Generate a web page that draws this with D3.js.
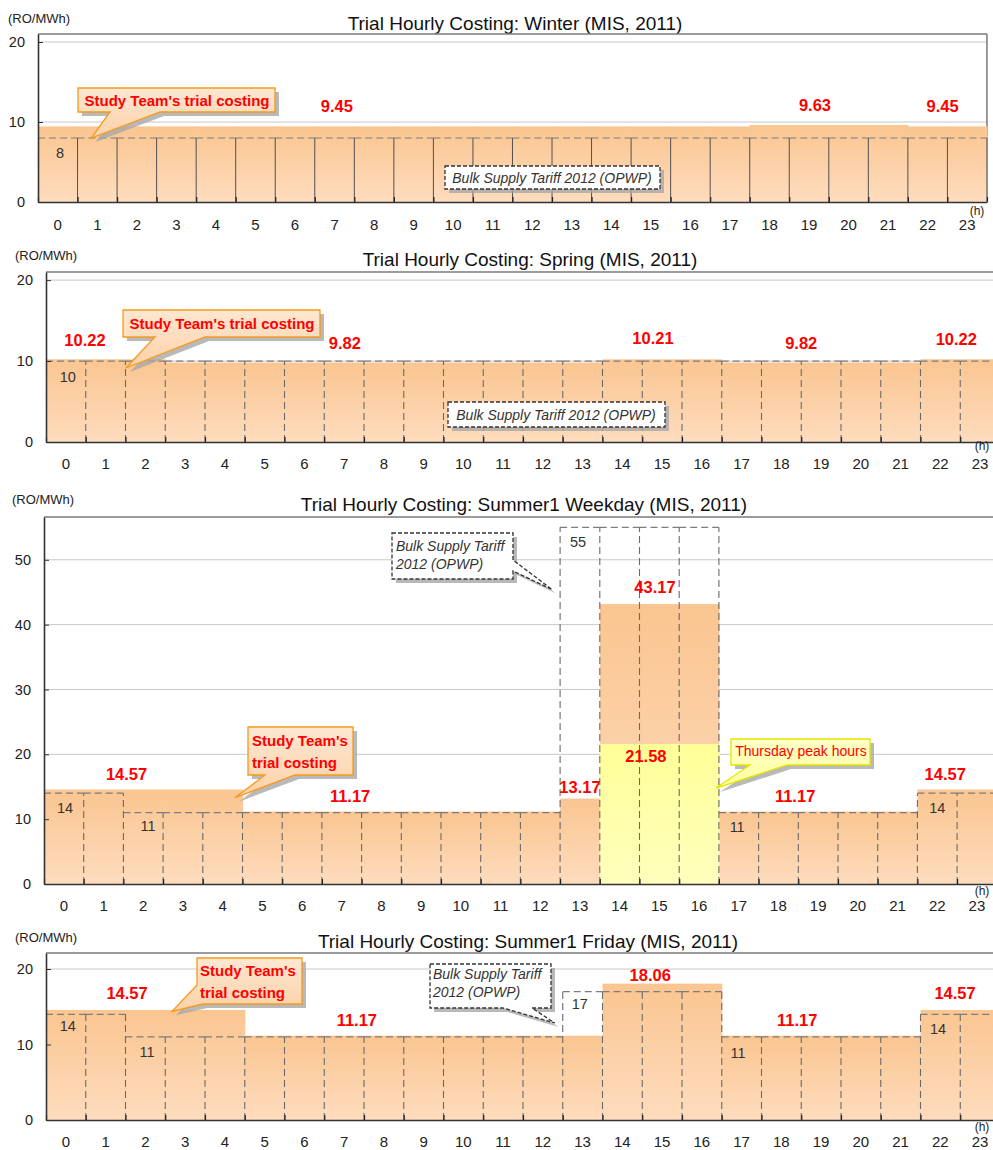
<!DOCTYPE html>
<html>
<head>
<meta charset="utf-8">
<script src="https://cdn.jsdelivr.net/npm/d3@7"></script>
<style>
  body { margin: 0; background: #fff; }
  svg { display: block; font-family: "Liberation Sans", Arial, sans-serif; }
</style>
</head>
<body>
<svg id="chart" width="993" height="1150"></svg>
<script>
// ---------- data ----------
const hours = [0, 1, 2, 3, 4, 5, 6, 7, 8, 9, 10, 11, 12, 13, 14, 15, 16, 17, 18, 19, 20, 21, 22, 23];

// Winter
const winterCost   = [9.45, 9.45, 9.45, 9.45, 9.45, 9.45, 9.45, 9.45, 9.45, 9.45, 9.45, 9.45,
                      9.45, 9.45, 9.45, 9.45, 9.45, 9.45, 9.63, 9.63, 9.63, 9.63, 9.45, 9.45];
const winterTariff = [8, 8, 8, 8, 8, 8, 8, 8, 8, 8, 8, 8, 8, 8, 8, 8, 8, 8, 8, 8, 8, 8, 8, 8];

// Spring
const springCost   = [10.22, 10.22, 10.22, 9.82, 9.82, 9.82, 9.82, 9.82, 9.82, 9.82, 9.82, 9.82,
                      9.82, 9.82, 10.21, 10.21, 10.21, 9.82, 9.82, 9.82, 9.82, 9.82, 10.22, 10.22];
const springTariff = [10, 10, 10, 10, 10, 10, 10, 10, 10, 10, 10, 10, 10, 10, 10, 10, 10, 10, 10, 10, 10, 10, 10, 10];

// Summer1 weekday
const weekdayCost   = [14.57, 14.57, 14.57, 14.57, 14.57, 11.17, 11.17, 11.17, 11.17, 11.17, 11.17, 11.17,
                       11.17, 13.17, 43.17, 43.17, 43.17, 11.17, 11.17, 11.17, 11.17, 11.17, 14.57, 14.57];
const weekdayThursday = [null, null, null, null, null, null, null, null, null, null, null, null,
                         null, null, 21.58, 21.58, 21.58, null, null, null, null, null, null, null];
const weekdayTariff = [14, 14, 11, 11, 11, 11, 11, 11, 11, 11, 11, 11, 11, 55, 55, 55, 55, 11, 11, 11, 11, 11, 14, 14];

// Summer1 Friday
const fridayCost   = [14.57, 14.57, 14.57, 14.57, 14.57, 11.17, 11.17, 11.17, 11.17, 11.17, 11.17, 11.17,
                      11.17, 11.17, 18.06, 18.06, 18.06, 11.17, 11.17, 11.17, 11.17, 11.17, 14.57, 14.57];
const fridayTariff = [14, 14, 11, 11, 11, 11, 11, 11, 11, 11, 11, 11, 11, 17, 17, 17, 17, 11, 11, 11, 11, 11, 14, 14];

const yTicksSmall = [0, 10, 20];
const yTicksLarge = [0, 10, 20, 30, 40, 50];

const unitLabel = "(RO/MWh)";
const hourUnit = "(h)";
const studyText = "Study Team's trial costing";
const studyTextLines = ["Study Team's", "trial costing"];
const bulkText = "Bulk Supply Tariff 2012 (OPWP)";
const bulkTextLines = ["Bulk Supply Tariff", "2012 (OPWP)"];
const peakText = "Thursday peak hours";

// ---------- panel layout ----------
const panels = [
  {
    title: "Trial Hourly Costing: Winter (MIS, 2011)", titleX: 515, titleY: 30,
    unitX: 8, unitY: 23,
    left: 38, bw: 39.54, top: 34, bottom: 202, yMax: 21, yTicks: yTicksSmall,
    tickPad: 17, hX: 977, hY: 215, rightBorder: true, solidDividers: true,
    cost: winterCost, tariff: winterTariff, peak: null,
    valueLabels: [{ i: 7, at: 7.56, dy: -14 }, { i: 19, at: 19.65, dy: -14 }, { i: 22, at: 22.88, dy: -14 }],
    tariffLabels: [{ i: 0, at: 0.56, dy: 20 }],
    callouts: [
      { kind: "study", lines: [studyText], box: [78, 88, 275, 112], text: [177, 105.5], anchor: "middle",
        wedge: { edge: "bottom", from: 160, to: 110 }, tip: [1.35, 8] },
      { kind: "bulk", lines: [bulkText], box: [445, 166, 660, 189], text: [552, 182.5], anchor: "middle" }
    ]
  },
  {
    title: "Trial Hourly Costing: Spring (MIS, 2011)", titleX: 530, titleY: 266,
    unitX: 15, unitY: 260,
    left: 46, bw: 39.75, top: 272, bottom: 442, yMax: 21, yTicks: yTicksSmall,
    tickPad: 16, hX: 982, hY: 450, rightBorder: false, solidDividers: false,
    cost: springCost, tariff: springTariff, peak: null,
    valueLabels: [{ i: 1, at: 0.98, dy: -13 }, { i: 7, at: 7.52, dy: -13.5 }, { i: 15, at: 15.27, dy: -15 },
                  { i: 19, at: 19.0, dy: -13.5 }, { i: 22, at: 22.9, dy: -14 }],
    tariffLabels: [{ i: 0, at: 0.55, dy: 21 }],
    callouts: [
      { kind: "study", lines: [studyText], box: [123, 310, 320, 337], text: [222, 328.5], anchor: "middle",
        wedge: { edge: "bottom", from: 205, to: 155 }, tip: [2.01, 9.14] },
      { kind: "bulk", lines: [bulkText], box: [448, 402, 665, 427], text: [556, 419.5], anchor: "middle" }
    ]
  },
  {
    title: "Trial Hourly Costing: Summer1 Weekday (MIS, 2011)", titleX: 524, titleY: 511,
    unitX: 12, unitY: 504,
    left: 44, bw: 39.7, top: 517, bottom: 884, yMax: 56.6, yTicks: yTicksLarge,
    tickPad: 16, hX: 982, hY: 895, rightBorder: false, solidDividers: false,
    cost: weekdayCost, tariff: weekdayTariff, peak: weekdayThursday,
    valueLabels: [{ i: 2, at: 2.08, dy: -9.5 }, { i: 7, at: 7.71, dy: -9.6 }, { i: 13, at: 13.5, dy: -5.6 },
                  { i: 15, at: 15.39, dy: -11 }, { i: 18, at: 18.92, dy: -9.6 }, { i: 22, at: 22.7, dy: -9.5 }],
    peakLabels: [{ i: 15, at: 15.16, dy: 18 }],
    tariffLabels: [{ i: 0, at: 0.53, dy: 20 }, { i: 2, at: 2.62, dy: 18 }, { i: 13, at: 13.45, dy: 19.5 },
                   { i: 17, at: 17.46, dy: 19 }, { i: 22, at: 22.5, dy: 20 }],
    callouts: [
      { kind: "study", lines: studyTextLines, box: [248, 727, 353, 775], text: [252, 745.5], anchor: "start",
        wedge: { edge: "bottom", from: 295, to: 265 }, tip: [4.81, 13.3] },
      { kind: "bulk", lines: bulkTextLines, box: [392, 533, 513, 579], text: [396, 550.5], anchor: "start",
        wedge: { edge: "right", from: 560, to: 571 }, tip: [12.8, 45.4] },
      { kind: "peak", lines: [peakText], box: [731, 739, 870, 765], text: [801, 756], anchor: "middle",
        wedge: { edge: "bottom", from: 787, to: 750 }, tip: [16.93, 14.8] }
    ]
  },
  {
    title: "Trial Hourly Costing: Summer1 Friday (MIS, 2011)", titleX: 528, titleY: 948,
    unitX: 15, unitY: 942,
    left: 46, bw: 39.75, top: 953, bottom: 1120, yMax: 22.12, yTicks: yTicksSmall,
    tickPad: 16, hX: 982, hY: 1131, rightBorder: false, solidDividers: false,
    cost: fridayCost, tariff: fridayTariff, peak: null,
    valueLabels: [{ i: 2, at: 2.04, dy: -11 }, { i: 7, at: 7.82, dy: -9.7 }, { i: 15, at: 15.2, dy: -3 },
                  { i: 18, at: 18.9, dy: -9.7 }, { i: 22, at: 22.87, dy: -11 }],
    tariffLabels: [{ i: 0, at: 0.55, dy: 16.5 }, { i: 2, at: 2.54, dy: 19.6 }, { i: 13, at: 13.43, dy: 17 },
                   { i: 17, at: 17.41, dy: 21 }, { i: 22, at: 22.44, dy: 19.4 }],
    callouts: [
      { kind: "study", lines: studyTextLines, box: [197, 958, 302, 1004], text: [200, 975.5], anchor: "start",
        wedge: { edge: "cornerBL", from: 203, to: 985 }, tip: [3.17, 14.4] },
      { kind: "bulk", lines: bulkTextLines, box: [430, 964, 551, 1008], text: [433, 978.5], anchor: "start",
        wedge: { edge: "bottom", from: 532, to: 503 }, tip: [12.8, 12.85] }
    ]
  }
];

// ---------- drawing ----------
const svg = d3.select("#chart");
const defs = svg.append("defs");
const fmt2 = d3.format(".2f");
const FONT = "'Liberation Sans', Arial, sans-serif";

function vGradient(id, stops) {
  const g = defs.append("linearGradient").attr("id", id)
    .attr("x1", 0).attr("y1", 0).attr("x2", 0).attr("y2", 1);
  stops.forEach(([o, c]) => g.append("stop").attr("offset", o).attr("stop-color", c));
}
vGradient("barFill", [[0, "#fac590"], [1, "#fedcbe"]]);
vGradient("peakFill", [[0, "#ffff98"], [1, "#ffffbd"]]);
vGradient("studyFill", [[0, "#fee7d2"], [1, "#fcd1a8"]]);
vGradient("thuFill", [[0, "#ffffc8"], [1, "#ffff9e"]]);

const calloutStyle = {
  study: { fill: "url(#studyFill)", stroke: "#f59a1b", dash: null, color: "#ff0000", weight: "bold", italic: false, size: 15, lh: 22 },
  bulk:  { fill: "#ffffff", stroke: "#333333", dash: "4,2", color: "#333333", weight: "normal", italic: true, size: 14, lh: 18 },
  peak:  { fill: "url(#thuFill)", stroke: "#e5e500", dash: null, color: "#ff0000", weight: "normal", italic: false, size: 14, lh: 18 }
};

function calloutPoints(c, tipXY) {
  const [x0, y0, x1, y1] = c.box;
  if (!c.wedge) return [[x0, y0], [x1, y0], [x1, y1], [x0, y1]];
  const w = c.wedge;
  if (w.edge === "bottom")
    return [[x0, y0], [x1, y0], [x1, y1], [w.from, y1], tipXY, [w.to, y1], [x0, y1]];
  if (w.edge === "right")
    return [[x0, y0], [x1, y0], [x1, w.from], tipXY, [x1, w.to], [x1, y1], [x0, y1]];
  if (w.edge === "cornerBL")
    return [[x0, y0], [x1, y0], [x1, y1], [w.from, y1], tipXY, [x0, w.to]];
  return [[x0, y0], [x1, y0], [x1, y1], [x0, y1]];
}

panels.forEach(p => {
  const g = svg.append("g");
  const right = p.left + 24 * p.bw;
  const x = d3.scaleLinear().domain([0, 24]).range([p.left, right]);
  const band = d3.scaleBand().domain(hours).range([p.left, right]).padding(0);
  const y = d3.scaleLinear().domain([0, p.yMax]).range([p.bottom, p.top]);

  // titles
  g.append("text").attr("x", p.titleX).attr("y", p.titleY).attr("text-anchor", "middle")
    .attr("font-size", 19).attr("fill", "#111").text(p.title);
  g.append("text").attr("x", p.unitX).attr("y", p.unitY)
    .attr("font-size", 13).attr("fill", "#222").text(unitLabel);

  // gridlines
  g.append("g").selectAll("line").data(p.yTicks.filter(t => t > 0)).join("line")
    .attr("x1", p.left).attr("x2", right).attr("y1", d => y(d)).attr("y2", d => y(d))
    .attr("stroke", "#c8c8c8").attr("stroke-width", 1);

  // frame (top / right)
  g.append("line").attr("x1", p.left).attr("x2", right).attr("y1", p.top).attr("y2", p.top)
    .attr("stroke", "#7a7a7a").attr("stroke-width", 1.5);
  if (p.rightBorder)
    g.append("line").attr("x1", right).attr("x2", right).attr("y1", p.top).attr("y2", p.bottom)
      .attr("stroke", "#7a7a7a").attr("stroke-width", 1.5);

  // study team costing bars
  g.append("g").selectAll("rect").data(hours).join("rect")
    .attr("x", d => band(d)).attr("width", band.bandwidth() + 0.6)
    .attr("y", d => y(p.cost[d])).attr("height", d => y(0) - y(p.cost[d]))
    .attr("fill", "url(#barFill)");

  // Thursday peak overlay
  if (p.peak) {
    const ph = hours.filter(d => p.peak[d] != null);
    g.append("g").selectAll("rect").data(ph).join("rect")
      .attr("x", d => band(d)).attr("width", band.bandwidth() + 0.6)
      .attr("y", d => y(p.peak[d])).attr("height", d => y(0) - y(p.peak[d]))
      .attr("fill", "url(#peakFill)");
  }

  // bulk supply tariff: dashed step outline
  const tg = g.append("g").attr("fill", "none");
  tg.selectAll("line.h").data(hours).join("line").attr("class", "h")
    .attr("x1", d => x(d)).attr("x2", d => x(d + 1))
    .attr("y1", d => y(p.tariff[d])).attr("y2", d => y(p.tariff[d]))
    .attr("stroke", "#7d7d7d").attr("stroke-width", 1.2).attr("stroke-dasharray", "7,4");
  const bounds = hours.slice(1).concat([24]);
  tg.selectAll("line.v").data(bounds).join("line").attr("class", "v")
    .attr("x1", d => x(d)).attr("x2", d => x(d))
    .attr("y1", y(0))
    .attr("y2", d => y(Math.max(p.tariff[d - 1], d < 24 ? p.tariff[d] : 0)))
    .attr("stroke", p.solidDividers ? "#505050" : "#6a6a6a")
    .attr("stroke-width", p.solidDividers ? 1 : 1.1)
    .attr("stroke-dasharray", p.solidDividers ? null : "7,4");

  // axes
  const xTicks = d3.axisBottom(x).tickValues(hours.concat([24])).tickSize(-5).tickSizeOuter(0).tickFormat("");
  const xa = g.append("g").attr("transform", `translate(0,${y(0)})`).call(xTicks);
  xa.select(".domain").attr("stroke", "#333").attr("stroke-width", 1.6);
  xa.selectAll(".tick line").attr("stroke", "#222").attr("stroke-width", 1.2);

  const xLab = d3.axisBottom(band).tickSize(0).tickPadding(p.tickPad);
  const xl = g.append("g").attr("transform", `translate(0,${y(0)})`).call(xLab);
  xl.select(".domain").remove();
  xl.selectAll("text").attr("font-size", 15).attr("font-family", FONT).attr("fill", "#222");

  const yAx = d3.axisLeft(y).tickValues(p.yTicks).tickSize(-5).tickSizeOuter(0).tickPadding(13);
  const ya = g.append("g").attr("transform", `translate(${p.left},0)`).call(yAx);
  ya.select(".domain").attr("stroke", "#333").attr("stroke-width", 1.6);
  ya.selectAll(".tick line").attr("stroke", "#333");
  ya.selectAll("text").attr("font-size", 14.5).attr("font-family", FONT).attr("fill", "#222");

  g.append("text").attr("x", p.hX).attr("y", p.hY).attr("text-anchor", "middle")
    .attr("font-size", 12).attr("fill", "#222").text(hourUnit);

  // tariff value labels
  g.append("g").selectAll("text").data(p.tariffLabels).join("text")
    .attr("x", d => x(d.at)).attr("y", d => y(p.tariff[d.i]) + d.dy)
    .attr("text-anchor", "middle").attr("font-size", 14.5).attr("fill", "#333")
    .text(d => String(p.tariff[d.i]));

  // costing value labels
  g.append("g").selectAll("text").data(p.valueLabels).join("text")
    .attr("x", d => x(d.at)).attr("y", d => y(p.cost[d.i]) + d.dy)
    .attr("text-anchor", "middle").attr("font-size", 16.5).attr("font-weight", "bold").attr("fill", "#ff0000")
    .text(d => fmt2(p.cost[d.i]));
  if (p.peakLabels)
    g.append("g").selectAll("text").data(p.peakLabels).join("text")
      .attr("x", d => x(d.at)).attr("y", d => y(p.peak[d.i]) + d.dy)
      .attr("text-anchor", "middle").attr("font-size", 16.5).attr("font-weight", "bold").attr("fill", "#ff0000")
      .text(d => fmt2(p.peak[d.i]));

  // callouts
  p.callouts.forEach(c => {
    const st = calloutStyle[c.kind];
    const tipXY = c.tip ? [x(c.tip[0]), y(c.tip[1])] : null;
    const pts = calloutPoints(c, tipXY);
    const line = d3.line().curve(d3.curveLinearClosed);
    const cg = g.append("g");
    cg.append("path").attr("d", line(pts.map(([a, b]) => [a + 4, b + 4])))
      .attr("fill", "#a8a8a8").attr("opacity", 0.8);
    cg.append("path").attr("d", line(pts))
      .attr("fill", st.fill).attr("stroke", st.stroke).attr("stroke-width", 1.3)
      .attr("stroke-dasharray", st.dash).attr("stroke-linejoin", "miter");
    cg.append("g").selectAll("text").data(c.lines).join("text")
      .attr("x", c.text[0]).attr("y", (d, k) => c.text[1] + k * st.lh)
      .attr("text-anchor", c.anchor)
      .attr("font-size", st.size).attr("font-weight", st.weight)
      .attr("font-style", st.italic ? "italic" : "normal")
      .attr("fill", st.color).text(d => d);
  });
});
</script>
</body>
</html>
